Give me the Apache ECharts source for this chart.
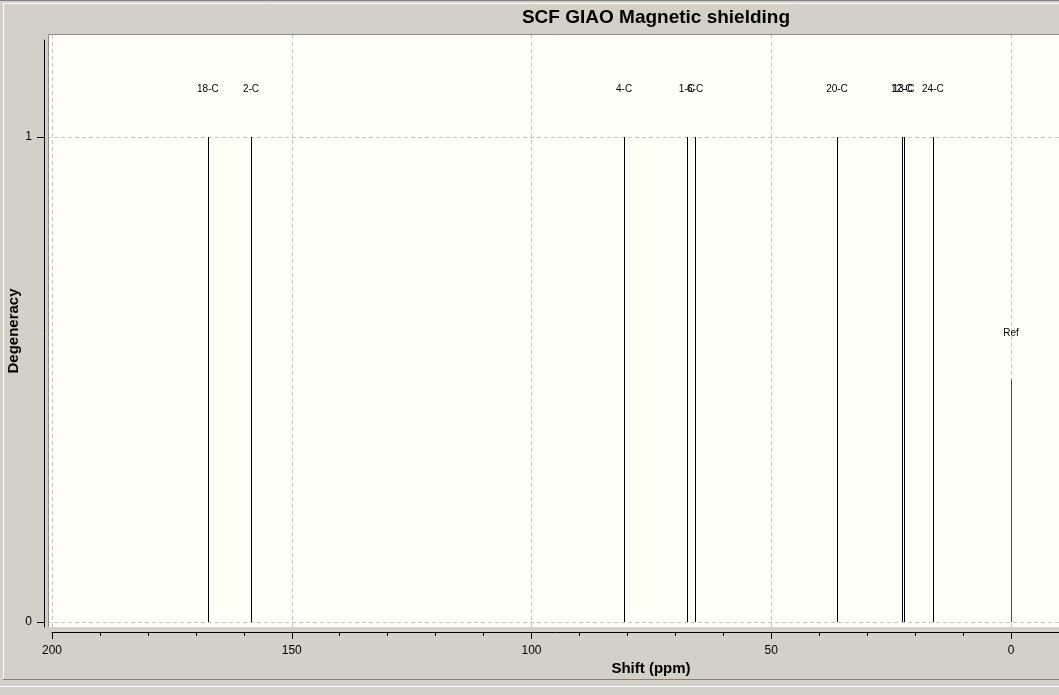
<!DOCTYPE html>
<html>
<head>
<meta charset="utf-8">
<script src="https://cdn.jsdelivr.net/npm/echarts@6/dist/echarts.min.js"></script>
<style>
html,body{margin:0;padding:0;background:#d4d0c8;}
#c{width:1059px;height:695px;}
</style>
</head>
<body>
<div id="c"></div>
<script>
// ---- data ----
const peakLabels = ['18-C','2-C','4-C','1-C','6-C','20-C','12-C','13-C','24-C'];
const peakShifts = [167.5, 158.5, 80.7, 67.6, 65.9, 36.3, 22.8, 22.4, 16.3];
const peakDegeneracy = [1, 1, 1, 1, 1, 1, 1, 1, 1];
const refLabel = 'Ref';
const refShift = 0;
const refHeight = 0.5;
const xTickLabels = [200, 150, 100, 50, 0];
const xMinorTicks = [190,180,170,160,140,130,120,110,90,80,70,60,40,30,20,10];
const yTickLabels = [0, 1];
const chartTitle = 'SCF GIAO Magnetic shielding';
const xTitle = 'Shift (ppm)';
const yTitle = 'Degeneracy';

const peakData = peakShifts.map((s, i) => [s, peakDegeneracy[i], peakLabels[i], 0]);
peakData.push([refShift, refHeight, refLabel, 1]);

const FONT = 'Liberation Sans, Arial, sans-serif';
const chart = echarts.init(document.getElementById('c'), null, {renderer: 'canvas'});

function renderPeak(params, api) {
  const x = api.value(0), h = api.value(1), isRef = api.value(3);
  const top = api.coord([x, h]);
  const bot = api.coord([x, 0]);
  const lx = Math.round(top[0]) + 0.5;
  return {
    type: 'group',
    children: [
      {type: 'line', shape: {x1: lx, y1: bot[1], x2: lx, y2: top[1]},
       style: {stroke: isRef ? '#b81c1c' : '#000', lineWidth: 1}},
      {type: 'text', x: top[0], y: top[1] - (isRef ? 46 : 48),
       style: {text: api.value(2), fill: '#000', font: '10px ' + FONT, align: 'center', verticalAlign: 'middle'}}
    ]
  };
}

const option = {
  backgroundColor: '#d4d0c8',
  animation: false,
  grid: [
    {left: 49, right: 0, top: 35, bottom: 68, show: true, backgroundColor: '#fffff8', borderWidth: 0},
    {left: 52, right: 0, top: 35, bottom: 63, show: false},
    {left: 44, width: 5, top: 40, bottom: 68, show: false}
  ],
  xAxis: [
    {gridIndex: 0, type: 'value', inverse: true, min: -10, max: 200.63, show: false},
    {gridIndex: 1, type: 'value', inverse: true, min: -10, max: 200, interval: 10, position: 'bottom',
     axisLine: {show: true, onZero: false, lineStyle: {color: '#000', width: 1}},
     axisTick: {show: true, length: 4, lineStyle: {color: '#000'}, customValues: xMinorTicks},
     axisLabel: {show: false}, splitLine: {show: false}},
    {gridIndex: 1, type: 'value', inverse: true, min: -10, max: 200, interval: 10, position: 'bottom',
     axisLine: {show: false, onZero: false},
     axisTick: {show: true, length: 7, lineStyle: {color: '#000'}, customValues: xTickLabels},
     axisLabel: {show: true, margin: 13, customValues: xTickLabels, fontFamily: FONT, fontSize: 12, color: '#000'},
     splitLine: {show: false}},
    {gridIndex: 2, type: 'value', show: false, min: 0, max: 1}
  ],
  yAxis: [
    {gridIndex: 0, type: 'value', min: -0.0103, max: 1.2103, show: false},
    {gridIndex: 1, type: 'value', min: -0.0103, max: 1.2103, show: false},
    {gridIndex: 2, type: 'value', min: -0.0103, max: 1.2, position: 'left',
     axisLine: {show: true, onZero: false, lineStyle: {color: '#000', width: 1}},
     axisTick: {show: true, length: 7, lineStyle: {color: '#000'}, customValues: yTickLabels},
     axisLabel: {show: true, margin: 12, customValues: yTickLabels, fontFamily: FONT, fontSize: 12, color: '#000'},
     splitLine: {show: false}}
  ],
  series: [
    {
      type: 'custom', xAxisIndex: 0, yAxisIndex: 0, silent: true,
      renderItem: function () { return null; },
      data: [],
      markLine: {
        silent: true, symbol: 'none', label: {show: false},
        lineStyle: {color: '#c4c4c4', type: [4, 3], width: 1},
        data: xTickLabels.map(v => ({xAxis: v})).concat(yTickLabels.map(v => ({yAxis: v})))
      },
      z: 1
    },
    {
      type: 'custom', xAxisIndex: 0, yAxisIndex: 0, silent: true, clip: false,
      renderItem: renderPeak,
      encode: {x: 0, y: 1},
      data: peakData,
      z: 5
    }
  ],
  graphic: [
    {type: 'text', x: 656, y: 18, z: 20,
     style: {text: chartTitle, font: 'bold 19px ' + FONT, fill: '#000', align: 'center', verticalAlign: 'middle'}},
    {type: 'text', x: 651, y: 669, z: 20,
     style: {text: xTitle, font: 'bold 15px ' + FONT, fill: '#000', align: 'center', verticalAlign: 'middle'}},
    {type: 'text', x: 14, y: 331, rotation: Math.PI / 2, z: 20,
     style: {text: yTitle, font: 'bold 15px ' + FONT, fill: '#000', align: 'center', verticalAlign: 'middle'}},
    {type: 'line', shape: {x1: 48.5, y1: 34.5, x2: 1059, y2: 34.5}, style: {stroke: '#8a8a8a', lineWidth: 1}, z: 10},
    {type: 'line', shape: {x1: 48.5, y1: 34.5, x2: 48.5, y2: 627}, style: {stroke: '#8a8a8a', lineWidth: 1}, z: 10},
    {type: 'line', shape: {x1: 3.5, y1: 3, x2: 3.5, y2: 679}, style: {stroke: '#ffffff', lineWidth: 1}, z: 10},
    {type: 'line', shape: {x1: 3, y1: 3.5, x2: 1059, y2: 3.5}, style: {stroke: '#ffffff', lineWidth: 1}, z: 10},
    {type: 'line', shape: {x1: 0, y1: 0.5, x2: 1059, y2: 0.5}, style: {stroke: '#808080', lineWidth: 1}, z: 10},
    {type: 'line', shape: {x1: 3, y1: 679.5, x2: 1059, y2: 679.5}, style: {stroke: '#808080', lineWidth: 1}, z: 10},
    {type: 'line', shape: {x1: 0, y1: 686.5, x2: 1059, y2: 686.5}, style: {stroke: '#ffffff', lineWidth: 1}, z: 10}
  ]
};
chart.setOption(option);
</script>
</body>
</html>
